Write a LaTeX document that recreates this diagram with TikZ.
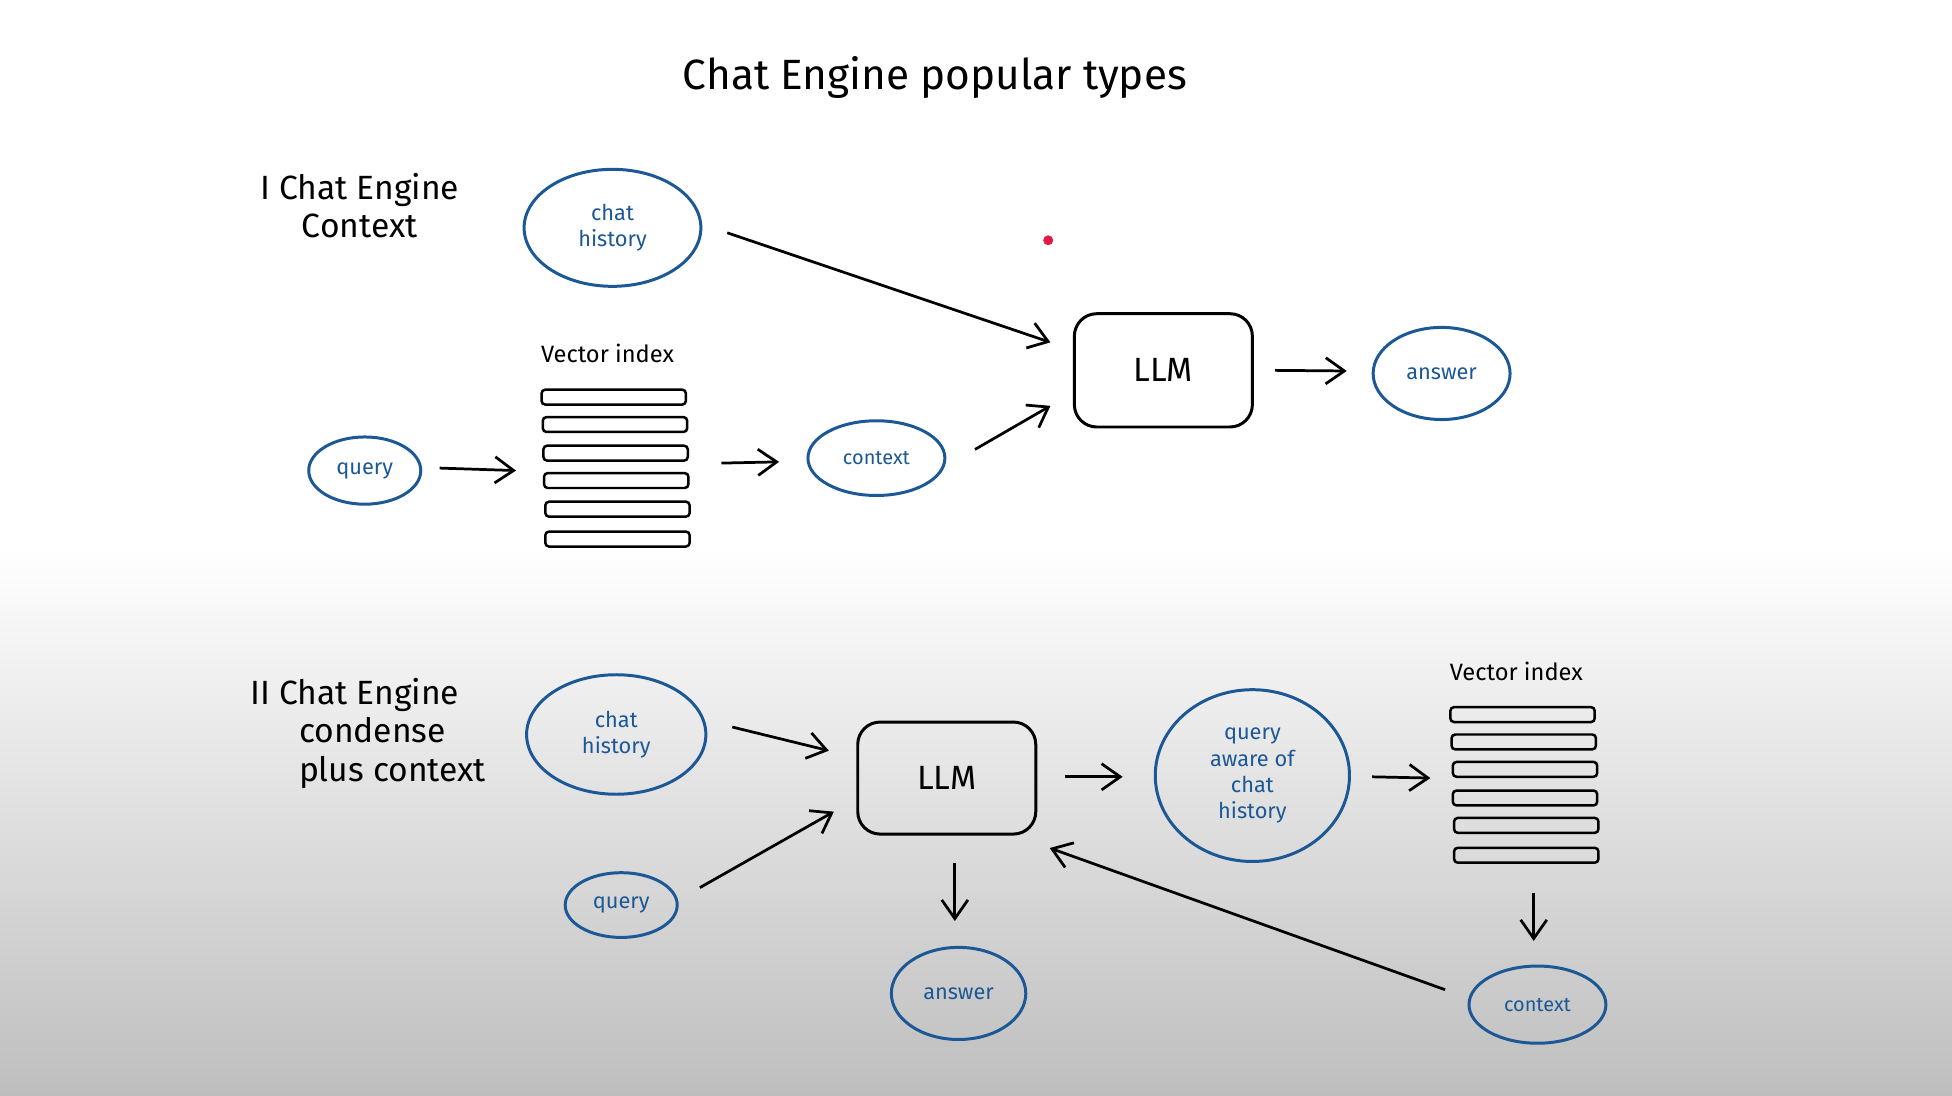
\documentclass[tikz,border=0pt]{standalone}
\usepackage{fontspec}
\setmainfont{Fira Sans}
\usetikzlibrary{shapes.geometric,arrows.meta}
\definecolor{inkblue}{RGB}{28,88,150}
\definecolor{dotred}{RGB}{225,25,70}
\definecolor{bggray}{RGB}{190,190,190}
\begin{document}
\begin{tikzpicture}[x=1pt,y=-1pt,
  bubble/.style={ellipse,draw=inkblue,line width=2.4pt,text=inkblue,inner sep=0pt,align=center,font=\fontsize{17.5}{21}\selectfont},
  llmbox/.style={draw=black,line width=2.4pt,rounded corners=18pt,minimum width=143pt,minimum height=91pt,inner sep=0pt,font=\fontsize{27}{29}\selectfont},
  bar/.style={draw=black,line width=2pt,rounded corners=3pt,minimum width=116pt,minimum height=12pt,inner sep=0pt},
  vlabel/.style={font=\fontsize{19}{22}\selectfont,inner sep=0pt},
  heading/.style={font=\fontsize{27}{31}\selectfont,inner sep=0pt},
  flow/.style={line width=2.2pt,-{Straight Barb[length=15pt,width=21pt]}}
]
% background
\fill[white] (0,0) rectangle (1568,880);
\shade[top color=white,bottom color=bggray] (0,440) rectangle (1568,880);
\useasboundingbox (0,0) rectangle (1568,880);

% title
\node (title) [font=\fontsize{34}{40}\selectfont] at (751,62) {Chat Engine popular types};

% ---------- Section I ----------
\node (sec1) [heading,align=center] at (289,165) {I Chat Engine\\Context};
\node (ch1) [bubble,minimum width=142pt,minimum height=94pt] at (492,183) {chat\\history};
\node (vi1) [vlabel] at (488,284) {Vector index};
\node (a1) [bar] at (493,319) {};
\node (a2) [bar] at (494,341) {};
\node (a3) [bar] at (494.5,364) {};
\node (a4) [bar] at (495,386) {};
\node (a5) [bar] at (496,409) {};
\node (a6) [bar] at (496,433) {};
\node (q1) [bubble,minimum width=90pt,minimum height=54pt] at (293,378) {query};
\node (ctx1) [bubble,minimum width=110pt,minimum height=60pt,font=\fontsize{16}{20}\selectfont] at (704,368) {context};
\node (llm1) [llmbox] at (934.5,297.5) {LLM};
\node (ans1) [bubble,minimum width=110pt,minimum height=74pt] at (1158,300) {answer};
\node (dot) [circle,fill=dotred,minimum size=8pt,inner sep=0pt] at (842,193) {};

\draw[flow] ([shift={(20,4)}]ch1.east) -- ([shift={(-18,-22.5)}]llm1.west);
\draw[flow] ([shift={(14,-2)}]q1.east) -- ([shift={(-21,7)}]a3.south west);
\draw[flow] ([shift={(26,1)}]a3.south east) -- ([shift={(-22,3)}]ctx1.west);
\draw[flow] ([shift={(23,-7)}]ctx1.east) -- ([shift={(-18,28.5)}]llm1.west);
\draw[flow] ([shift={(17,0)}]llm1.east) -- ([shift={(-20,-2)}]ans1.west);

% ---------- Section II ----------
\node (sec2) [heading,align=left,anchor=west] at (201,589) {II Chat Engine\\\hspace*{39pt}condense\\\hspace*{39pt}plus context};
\node (ch2) [bubble,minimum width=144pt,minimum height=96pt] at (495,590) {chat\\history};
\node (q2) [bubble,minimum width=90pt,minimum height=52pt] at (499,727) {query};
\node (llm2) [llmbox,minimum height=90pt] at (760.5,625) {LLM};
\node (ans2) [bubble,minimum width=108pt,minimum height=74pt] at (770,798) {answer};
\node (qa) [bubble,minimum width=156pt,minimum height=138pt] at (1006,623) {query\\aware of\\chat\\history};
\node (vi2) [vlabel] at (1218,539) {Vector index};
\node (d1) [bar] at (1223,574) {};
\node (d2) [bar] at (1224,596) {};
\node (d3) [bar] at (1225,618) {};
\node (d4) [bar] at (1225,641) {};
\node (d5) [bar] at (1226,663) {};
\node (d6) [bar] at (1226,687) {};
\node (ctx2) [bubble,minimum width=110pt,minimum height=62pt,font=\fontsize{16}{20}\selectfont] at (1235,807) {context};

\draw[flow] ([shift={(20,-6)}]ch2.east) -- ([shift={(-22,-22)}]llm2.west);
\draw[flow] ([shift={(17,-14)}]q2.east) -- ([shift={(-18,27)}]llm2.west);
\draw[flow] ([shift={(22,-1)}]llm2.east) -- ([shift={(-25,1)}]qa.west);
\draw[flow] ([shift={(17,1)}]qa.east) -- ([shift={(-17,0)}]d3.south west);
\draw[flow] ([shift={(6,23)}]d6.south) -- ([shift={(-3,-19)}]ctx2.north);
\draw[flow] ([shift={(-18,-12)}]ctx2.west) -- ([shift={(10,10)}]llm2.south east);
\draw[flow] ([shift={(6.5,22)}]llm2.south) -- ([shift={(-3,-20)}]ans2.north);
\end{tikzpicture}
\end{document}
